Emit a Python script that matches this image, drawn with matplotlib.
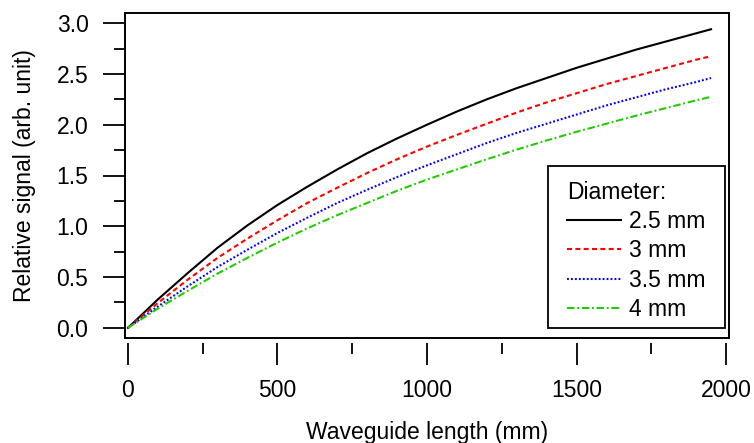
import matplotlib
matplotlib.use("Agg")
import matplotlib.pyplot as plt
from matplotlib.lines import Line2D
from matplotlib.patches import Rectangle
from matplotlib.ticker import MultipleLocator

plt.rcParams["font.family"] = ["Liberation Sans", "DejaVu Sans"]

# Waveguide length (mm)
length_mm = [0, 100, 200, 300, 400, 500, 600, 700, 800, 900, 1000,
             1100, 1200, 1300, 1400, 1500, 1600, 1700, 1800, 1900, 1950]

# Relative signal for each waveguide diameter
sig_2p5mm = [0.00, 0.28, 0.54, 0.79, 1.01, 1.21, 1.39, 1.56, 1.72, 1.865, 2.00,
             2.13, 2.25, 2.36, 2.46, 2.56, 2.65, 2.74, 2.82, 2.90, 2.94]
sig_3mm = [0.00, 0.245, 0.475, 0.69, 0.88, 1.06, 1.23, 1.38, 1.525, 1.66, 1.785,
           1.90, 2.01, 2.12, 2.22, 2.31, 2.40, 2.48, 2.56, 2.64, 2.675]
sig_3p5mm = [0.00, 0.21, 0.41, 0.60, 0.77, 0.935, 1.085, 1.23, 1.36, 1.485, 1.60,
             1.71, 1.82, 1.92, 2.01, 2.10, 2.19, 2.27, 2.35, 2.42, 2.46]
sig_4mm = [0.00, 0.19, 0.365, 0.535, 0.69, 0.84, 0.98, 1.11, 1.23, 1.35, 1.46,
           1.56, 1.66, 1.755, 1.845, 1.93, 2.01, 2.09, 2.165, 2.24, 2.275]

labels = ["2.5 mm", "3 mm", "3.5 mm", "4 mm"]
series = [sig_2p5mm, sig_3mm, sig_3p5mm, sig_4mm]
colors = ["#000000", "#ff0000", "#0000ff", "#22cc00"]
styles = ["-", (0, (2.4, 1.6)), (0, (0.9, 1.0)), (0, (3.6, 1.3, 0.9, 1.3))]

FS = 16.5
W, H = 754, 443
fig = plt.figure(figsize=(W / 100, H / 100), dpi=100)
ax = fig.add_axes([125 / W, 1 - 338 / H, 604 / W, 325 / H])

for y, lab, c, ls in zip(series, labels, colors, styles):
    ax.plot(length_mm, y, color=c, linestyle=ls, lw=1.5, label=lab)

ax.set_xlim(-10, 2010)
ax.set_ylim(-0.1, 3.1)

ax.xaxis.set_major_locator(MultipleLocator(500))
ax.xaxis.set_minor_locator(MultipleLocator(250))
ax.yaxis.set_major_locator(MultipleLocator(0.5))
ax.yaxis.set_minor_locator(MultipleLocator(0.25))

frame_lw = 1.4
for side in ["left", "top", "right"]:
    ax.spines[side].set_linewidth(frame_lw)
# detached x axis: ticks sit a few pixels below the plot frame
ax.spines["bottom"].set_position(("outward", 3.6))
ax.spines["bottom"].set_visible(False)
ax.add_artist(Line2D([0, 1], [0, 0], transform=ax.transAxes, color="black",
                     lw=frame_lw, clip_on=False, solid_capstyle="projecting"))

ax.tick_params(axis="both", which="both", direction="out", width=1.3,
               labelsize=FS, top=False, right=False)
ax.tick_params(axis="both", which="major", length=15.8)
ax.tick_params(axis="both", which="minor", length=7.9)
ax.tick_params(axis="y", which="major", pad=10.5)
ax.tick_params(axis="x", which="major", pad=10)

ax.set_xticks([0, 500, 1000, 1500, 2000])
ax.set_xticklabels(["0", "500", "1000", "1500", "2000"])
ax.set_yticks([0, 0.5, 1.0, 1.5, 2.0, 2.5, 3.0])
ax.set_yticklabels(["0.0", "0.5", "1.0", "1.5", "2.0", "2.5", "3.0"])

ax.set_xlabel("Waveguide length (mm)", fontsize=FS, labelpad=14)
ax.set_ylabel("Relative signal (arb. unit)", fontsize=FS, labelpad=15)

# legend box drawn as its own rectangle so the inner margins can be set freely
box = Rectangle((423 / 604, 10 / 325), 177 / 604, 162 / 325,
                transform=ax.transAxes, facecolor="white", edgecolor="black",
                lw=1.3, zorder=4)
ax.add_patch(box)
leg = ax.legend(title="Diameter:", loc="upper left",
                bbox_to_anchor=(442 / 604, 157 / 325),
                borderaxespad=0, borderpad=0, fontsize=FS, title_fontsize=FS,
                handlelength=2.35, handletextpad=0.36, labelspacing=0.27,
                frameon=False, alignment="left")
leg.set_zorder(5)

fig.savefig("out.png", dpi=100)
